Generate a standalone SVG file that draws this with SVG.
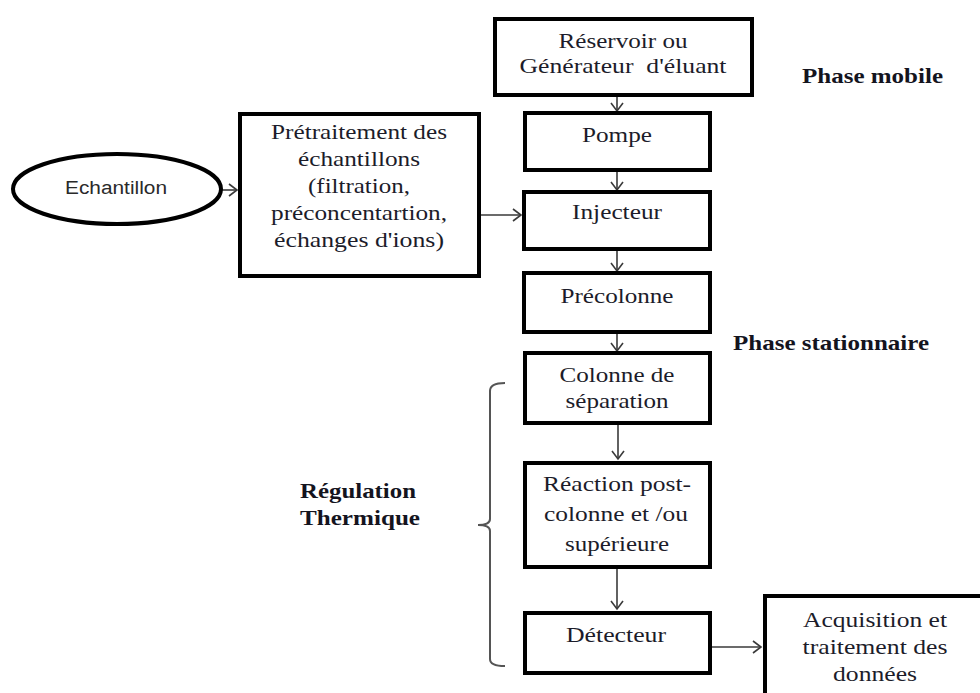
<svg xmlns="http://www.w3.org/2000/svg" width="980" height="693" viewBox="0 0 980 693">
  <style>
    .box { fill: #ffffff; stroke: #000000; stroke-width: 4; }
    .oval { fill: #ffffff; stroke: #000000; stroke-width: 4; }
    .t { font-family: "Liberation Serif", "Times New Roman", serif; font-size: 21px; fill: #1c1c2a; text-anchor: middle; }
    .lbl { font-family: "Liberation Serif", "Times New Roman", serif; font-size: 21px; font-weight: bold; fill: #14141e; }
    .sans { font-family: "Liberation Sans", Arial, sans-serif; font-size: 18px; fill: #2a2a2a; text-anchor: middle; }
    .link { fill: none; stroke: #3a3a3a; stroke-width: 1.6; }
    .brace { fill: none; stroke: #555555; stroke-width: 2; }
  </style>
  <defs>
    <marker id="open" markerUnits="userSpaceOnUse" markerWidth="12" markerHeight="14" refX="9" refY="7" orient="auto">
      <path d="M1,1 L9,7 L1,13" fill="none" stroke="#3a3a3a" stroke-width="1.6"/>
    </marker>
  </defs>

  <rect width="980" height="693" fill="#ffffff"/>

  <!-- connectors -->
  <g id="connectors">
    <line class="link" x1="617" y1="97" x2="617" y2="111" marker-end="url(#open)"/>
    <line class="link" x1="617" y1="172" x2="617" y2="190" marker-end="url(#open)"/>
    <line class="link" x1="617" y1="251" x2="617" y2="271" marker-end="url(#open)"/>
    <line class="link" x1="617" y1="334" x2="617" y2="351" marker-end="url(#open)"/>
    <line class="link" x1="618" y1="425" x2="618" y2="459" marker-end="url(#open)"/>
    <line class="link" x1="617" y1="569" x2="617" y2="609" marker-end="url(#open)"/>
    <line class="link" x1="222" y1="190" x2="237" y2="190" marker-end="url(#open)"/>
    <line class="link" x1="481" y1="215" x2="521" y2="215" marker-end="url(#open)"/>
    <line class="link" x1="712" y1="647" x2="761" y2="647" marker-end="url(#open)"/>
  </g>

  <!-- temperature-controlled section -->
  <g id="regulation">
    <path class="brace" d="M505,383 Q490,383 490,391 L490,519 Q490,525 478,525 Q490,525 490,531 L490,659 Q490,666 505,666"/>
    <text class="lbl" x="300" y="498" textLength="116" lengthAdjust="spacingAndGlyphs">Régulation</text>
    <text class="lbl" x="300" y="525" textLength="120" lengthAdjust="spacingAndGlyphs">Thermique</text>
  </g>

  <g id="phase-mobile">
    <text class="lbl" x="802" y="83" textLength="141" lengthAdjust="spacingAndGlyphs">Phase mobile</text>
  </g>
  <g id="phase-stationnaire">
    <text class="lbl" x="733" y="350" textLength="196" lengthAdjust="spacingAndGlyphs">Phase stationnaire</text>
  </g>

  <g id="echantillon">
    <ellipse class="oval" cx="117" cy="189" rx="104" ry="35"/>
    <text class="sans" x="116" y="194" textLength="102" lengthAdjust="spacingAndGlyphs">Echantillon</text>
  </g>

  <g id="pretraitement">
    <rect class="box" x="240" y="114" width="239" height="162"/>
    <text class="t" x="359" y="139" textLength="176" lengthAdjust="spacingAndGlyphs">Prétraitement des</text>
    <text class="t" x="359" y="166" textLength="122" lengthAdjust="spacingAndGlyphs">échantillons</text>
    <text class="t" x="359" y="193" textLength="102" lengthAdjust="spacingAndGlyphs">(filtration,</text>
    <text class="t" x="359" y="220" textLength="176" lengthAdjust="spacingAndGlyphs">préconcentartion,</text>
    <text class="t" x="359" y="247" textLength="170" lengthAdjust="spacingAndGlyphs">échanges d'ions)</text>
  </g>

  <g id="reservoir">
    <rect class="box" x="495" y="19" width="257" height="76"/>
    <text class="t" x="623" y="48" textLength="129" lengthAdjust="spacingAndGlyphs">Réservoir ou</text>
    <text class="t" x="623" y="73" textLength="207" lengthAdjust="spacingAndGlyphs">Générateur &#160;d'éluant</text>
  </g>

  <g id="pompe">
    <rect class="box" x="525" y="113" width="185" height="57"/>
    <text class="t" x="617" y="142" textLength="70" lengthAdjust="spacingAndGlyphs">Pompe</text>
  </g>

  <g id="injecteur">
    <rect class="box" x="524" y="192" width="186" height="57"/>
    <text class="t" x="617" y="219" textLength="90" lengthAdjust="spacingAndGlyphs">Injecteur</text>
  </g>

  <g id="precolonne">
    <rect class="box" x="524" y="273" width="186" height="59"/>
    <text class="t" x="617" y="303" textLength="113" lengthAdjust="spacingAndGlyphs">Précolonne</text>
  </g>

  <g id="colonne">
    <rect class="box" x="525" y="353" width="185" height="70"/>
    <text class="t" x="617" y="382" textLength="115" lengthAdjust="spacingAndGlyphs">Colonne de</text>
    <text class="t" x="617" y="408" textLength="103" lengthAdjust="spacingAndGlyphs">séparation</text>
  </g>

  <g id="reaction">
    <rect class="box" x="525" y="463" width="185" height="104"/>
    <text class="t" x="617" y="491" textLength="148" lengthAdjust="spacingAndGlyphs">Réaction post-</text>
    <text class="t" x="616" y="521" textLength="144" lengthAdjust="spacingAndGlyphs">colonne et /ou</text>
    <text class="t" x="617" y="551" textLength="104" lengthAdjust="spacingAndGlyphs">supérieure</text>
  </g>

  <g id="detecteur">
    <rect class="box" x="525" y="613" width="185" height="60"/>
    <text class="t" x="616" y="642" textLength="100" lengthAdjust="spacingAndGlyphs">Détecteur</text>
  </g>

  <g id="acquisition">
    <rect class="box" x="765" y="596" width="230" height="110"/>
    <text class="t" x="875" y="627" textLength="144" lengthAdjust="spacingAndGlyphs">Acquisition et</text>
    <text class="t" x="875" y="654" textLength="145" lengthAdjust="spacingAndGlyphs">traitement des</text>
    <text class="t" x="875" y="681" textLength="84" lengthAdjust="spacingAndGlyphs">données</text>
  </g>
</svg>
